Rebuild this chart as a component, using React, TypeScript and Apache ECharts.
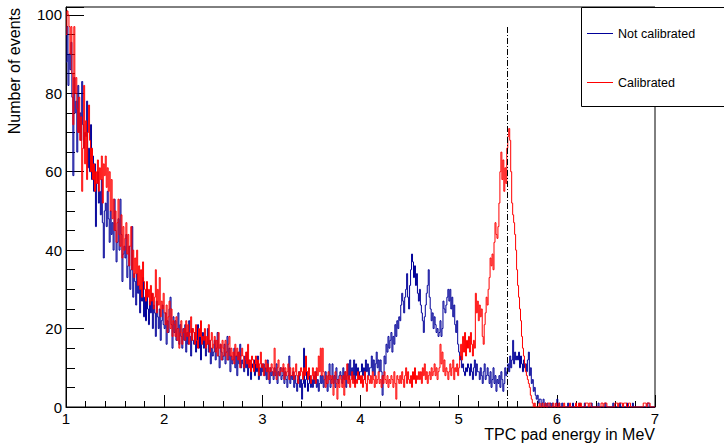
import React, { useEffect, useRef } from "react";
import * as echarts from "echarts";

// Histogram binning (MeV)
const X_MIN = 1;
const X_MAX = 7;
const BIN_WIDTH = 0.01;

// Counts per 0.01 MeV bin, from 1.00 MeV to 6.99 MeV (rows of 0.1 MeV)
const NOT_CALIBRATED: number[] = [
  88, 97, 82, 90, 86, 93, 79, 59, 84, 75,
  78, 65, 82, 70, 75, 68, 83, 72, 66, 70,
  69, 78, 61, 66, 60, 72, 58, 64, 55, 62,
  46, 57, 60, 52, 55, 49, 58, 47, 38, 50,
  52, 46, 55, 48, 42, 50, 44, 47, 40, 53,
  45, 37, 42, 48, 40, 53, 44, 32, 39, 41,
  38, 44, 33, 36, 41, 30, 35, 46, 28, 34,
  32, 26, 34, 29, 31, 24, 30, 27, 33, 23,
  28, 22, 30, 25, 21, 27, 24, 29, 20, 26,
  24, 18, 27, 23, 20, 25, 17, 22, 26, 21,
  20, 24, 16, 22, 19, 25, 28, 21, 15, 23,
  19, 22, 17, 20, 24, 16, 21, 18, 15, 20,
  17, 21, 14, 19, 16, 22, 18, 13, 20, 17,
  16, 19, 14, 17, 21, 15, 18, 12, 16, 19,
  15, 18, 13, 16, 20, 14, 17, 11, 15, 13,
  14, 17, 12, 15, 19, 13, 10, 16, 14, 12,
  13, 16, 11, 14, 18, 12, 15, 9, 13, 11,
  12, 15, 10, 13, 8, 14, 11, 16, 10, 12,
  11, 9, 13, 10, 14, 8, 12, 10, 7, 11,
  10, 12, 8, 11, 9, 13, 7, 10, 8, 11,
  9, 11, 8, 10, 7, 12, 9, 6, 10, 8,
  9, 7, 10, 8, 11, 6, 9, 8, 10, 7,
  8, 10, 6, 9, 7, 5, 8, 13, 6, 8,
  7, 9, 5, 8, 6, 4, 7, 9, 5, 7,
  2, 6, 15, 5, 7, 9, 4, 6, 8, 5,
  7, 5, 8, 6, 9, 5, 7, 4, 6, 8,
  6, 8, 5, 7, 9, 6, 4, 8, 11, 5,
  7, 11, 6, 8, 5, 10, 7, 6, 8, 9,
  8, 6, 10, 7, 9, 5, 8, 11, 7, 12,
  8, 10, 7, 12, 6, 11, 8, 10, 7, 9,
  9, 11, 8, 10, 7, 12, 9, 11, 8, 10,
  10, 13, 9, 12, 8, 11, 14, 10, 12, 9,
  12, 9, 3, 8, 13, 11, 16, 14, 18, 15,
  17, 19, 14, 18, 16, 21, 18, 22, 20, 23,
  22, 26, 29, 27, 24, 28, 30, 34, 28, 25,
  31, 35, 39, 37, 33, 36, 31, 34, 29, 27,
  30, 26, 24, 22, 19, 23, 26, 29, 31, 35,
  28, 25, 22, 24, 20, 23, 21, 19, 20, 18,
  19, 22, 18, 20, 27, 25, 24, 26, 28, 30,
  27, 30, 25, 28, 23, 26, 21, 19, 22, 16,
  14, 12, 13, 10, 11, 9, 8, 10, 9, 11,
  10, 8, 11, 9, 7, 10, 12, 8, 11, 9,
  9, 7, 10, 8, 6, 9, 11, 7, 8, 10,
  8, 6, 9, 5, 7, 10, 6, 8, 4, 7,
  6, 8, 5, 9, 7, 4, 6, 10, 8, 9,
  11, 9, 13, 10, 12, 17, 11, 14, 12, 13,
  12, 14, 10, 13, 11, 9, 12, 10, 11, 9,
  12, 14, 8, 10, 6, 7, 4, 5, 3, 2,
  3, 1, 2, 2, 0, 1, 2, 0, 1, 0,
  1, 0, 0, 1, 0, 1, 0, 0, 0, 1,
  2, 0, 1, 0, 0, 1, 0, 0, 0, 0,
  0, 1, 0, 0, 0, 0, 1, 0, 0, 0,
  0, 0, 0, 1, 0, 0, 0, 0, 1, 0,
  0, 0, 0, 0, 0, 1, 0, 0, 0, 0,
  0, 0, 1, 0, 0, 0, 0, 0, 0, 1,
  0, 0, 0, 0, 0, 0, 0, 1, 0, 0,
  0, 0, 0, 0, 1, 0, 0, 0, 0, 0,
  0, 1, 0, 0, 0, 0, 0, 1, 0, 0,
  0, 0, 0, 0, 0, 0, 0, 0, 0, 0,
  0, 0, 1, 1, 0, 0, 0, 0, 0, 0,
];

const CALIBRATED: number[] = [
  95, 101, 100, 97, 90, 97, 85, 72, 97, 80,
  84, 76, 70, 79, 68, 74, 55, 66, 82, 62,
  73, 58, 70, 77, 68, 60, 66, 58, 62, 55,
  60, 57, 63, 55, 61, 58, 64, 52, 62, 59,
  64, 56, 61, 55, 60, 50, 58, 48, 53, 45,
  50, 42, 47, 53, 44, 41, 49, 38, 46, 40,
  43, 47, 39, 44, 36, 41, 46, 35, 40, 33,
  38, 34, 40, 31, 36, 30, 35, 28, 37, 32,
  30, 27, 32, 28, 30, 26, 31, 27, 29, 25,
  28, 35, 24, 30, 26, 33, 23, 27, 25, 29,
  24, 21, 26, 19, 23, 27, 20, 25, 18, 22,
  21, 18, 23, 17, 20, 15, 19, 22, 16, 19,
  20, 17, 22, 18, 21, 16, 19, 23, 17, 20,
  19, 16, 21, 17, 15, 20, 18, 22, 16, 18,
  17, 20, 15, 18, 16, 21, 14, 17, 19, 15,
  16, 18, 14, 17, 13, 19, 15, 16, 12, 17,
  15, 13, 17, 14, 12, 16, 18, 13, 15, 12,
  14, 11, 16, 13, 15, 12, 14, 10, 13, 15,
  13, 10, 12, 14, 11, 16, 10, 12, 9, 13,
  12, 9, 11, 13, 10, 12, 8, 11, 14, 10,
  11, 8, 10, 12, 9, 11, 7, 10, 9, 11,
  10, 8, 15, 9, 7, 10, 12, 8, 9, 10,
  9, 11, 7, 10, 8, 9, 11, 7, 10, 8,
  8, 10, 7, 9, 11, 8, 6, 9, 8, 10,
  9, 7, 10, 8, 13, 9, 7, 10, 8, 6,
  8, 10, 7, 9, 6, 10, 8, 13, 9, 15,
  8, 15, 9, 7, 5, 8, 6, 9, 7, 8,
  6, 8, 3, 7, 9, 6, 2, 7, 5, 8,
  7, 5, 8, 3, 9, 7, 11, 6, 8, 5,
  7, 9, 6, 8, 5, 7, 6, 9, 7, 8,
  6, 8, 5, 7, 9, 6, 4, 8, 7, 6,
  8, 6, 9, 7, 5, 8, 6, 7, 9, 6,
  7, 5, 8, 6, 9, 7, 6, 8, 5, 7,
  6, 8, 7, 5, 9, 6, 2, 8, 7, 6,
  8, 6, 9, 7, 5, 8, 10, 6, 9, 7,
  6, 8, 5, 9, 7, 10, 6, 8, 7, 9,
  7, 9, 6, 10, 8, 11, 7, 9, 6, 8,
  9, 7, 10, 8, 9, 11, 8, 10, 7, 9,
  10, 16, 11, 14, 9, 12, 8, 10, 9, 7,
  9, 11, 8, 10, 12, 7, 10, 9, 11, 8,
  10, 13, 16, 12, 18, 14, 19, 13, 17, 15,
  18, 14, 19, 16, 13, 17, 15, 29, 24, 27,
  22, 26, 23, 25, 18, 16, 21, 24, 28, 26,
  30, 33, 38, 36, 39, 35, 42, 47, 44, 43,
  46, 52, 60, 65, 58, 63, 55, 61, 57, 66,
  69, 71, 68, 60, 52, 49, 47, 44, 40, 35,
  31, 28, 25, 22, 18, 15, 13, 11, 9, 8,
  7, 6, 5, 3, 2, 1, 0, 1, 0, 0,
  0, 0, 1, 0, 0, 1, 0, 0, 1, 0,
  0, 1, 1, 0, 0, 0, 1, 0, 0, 1,
  0, 0, 1, 0, 0, 0, 0, 1, 0, 0,
  0, 0, 0, 1, 0, 0, 0, 0, 0, 1,
  0, 0, 1, 0, 1, 0, 0, 0, 0, 1,
  1, 1, 0, 1, 1, 0, 0, 0, 0, 0,
  0, 0, 0, 0, 0, 1, 1, 0, 1, 1,
  1, 0, 0, 0, 0, 0, 0, 0, 0, 1,
  1, 1, 0, 1, 1, 1, 1, 0, 1, 1,
  1, 0, 0, 1, 1, 0, 0, 0, 0, 0,
  0, 0, 0, 0, 0, 0, 0, 0, 1, 1,
  1, 0, 1, 1, 1, 0, 0, 0, 0, 0,
];

// Reference marker line (MeV) and its top (events)
const MARKER_ENERGY = 5.49;
const MARKER_TOP = 97;

const Y_MAX = 102;
const SERIES_NAMES = ["Not calibrated", "Calibrated"];
const COLORS = ["#000099", "#ff0000"];
const X_TITLE = "TPC pad energy in MeV";
const Y_TITLE = "Number of events";
const FONT = "'Liberation Sans', Arial, Helvetica, sans-serif";

function toSteps(counts: number[]): [number, number][] {
  const pts: [number, number][] = counts.map((c, i) => [
    Math.round((X_MIN + i * BIN_WIDTH) * 100) / 100,
    c,
  ]);
  pts.push([X_MAX, counts[counts.length - 1]]);
  return pts;
}

export default function App() {
  const ref = useRef<HTMLDivElement>(null);

  useEffect(() => {
    if (!ref.current) return;
    const chart = echarts.init(ref.current, undefined, { renderer: "svg" });
    const black = "#000";
    const legendRowsY = [33.5, 82.5];
    const legendEntries = SERIES_NAMES.flatMap((name, i) => [
      {
        type: "line",
        z: 20,
        shape: { x1: 587, y1: legendRowsY[i], x2: 613, y2: legendRowsY[i] },
        style: { stroke: COLORS[i], lineWidth: 1 },
      },
      {
        type: "text",
        z: 20,
        x: 618,
        y: legendRowsY[i],
        style: {
          text: name,
          align: "left",
          verticalAlign: "middle",
          fontSize: 12.5,
          fontFamily: FONT,
          fill: black,
        },
      },
    ]);
    chart.setOption({
      animation: false,
      backgroundColor: "#fff",
      textStyle: { fontFamily: FONT },
      grid: {
        left: 66,
        right: 69,
        top: 7,
        bottom: 36,
        show: true,
        borderColor: black,
        borderWidth: 1,
        backgroundColor: "transparent",
      },
      xAxis: {
        type: "value",
        min: X_MIN,
        max: X_MAX,
        interval: 1,
        axisLine: { show: true, onZero: false, lineStyle: { color: black, width: 1 } },
        axisTick: { show: true, inside: true, length: 12, lineStyle: { color: black } },
        minorTick: { show: true, splitNumber: 5, length: 6, lineStyle: { color: black } },
        splitLine: { show: false },
        axisLabel: { color: black, fontSize: 15, fontFamily: FONT, margin: 4 },
      },
      yAxis: {
        type: "value",
        min: 0,
        max: Y_MAX,
        interval: 20,
        axisLine: { show: true, lineStyle: { color: black, width: 1 } },
        axisTick: { show: true, inside: true, length: 18, lineStyle: { color: black } },
        minorTick: { show: true, splitNumber: 4, length: 9, lineStyle: { color: black } },
        splitLine: { show: false },
        axisLabel: {
          color: black,
          fontSize: 15,
          fontFamily: FONT,
          margin: 4,
          formatter: (v: number) => (v % 20 === 0 ? String(v) : ""),
        },
      },
      series: [
        {
          name: SERIES_NAMES[0],
          type: "line",
          step: "end",
          data: toSteps(NOT_CALIBRATED),
          symbol: "none",
          lineStyle: { color: COLORS[0], width: 1 },
          itemStyle: { color: COLORS[0] },
        },
        {
          name: SERIES_NAMES[1],
          type: "line",
          step: "end",
          data: toSteps(CALIBRATED),
          symbol: "none",
          lineStyle: { color: COLORS[1], width: 1 },
          itemStyle: { color: COLORS[1] },
          markLine: {
            silent: true,
            symbol: ["none", "none"],
            label: { show: false },
            lineStyle: { color: black, type: [6, 2, 1, 2], width: 1 },
            data: [[{ coord: [MARKER_ENERGY, 0] }, { coord: [MARKER_ENERGY, MARKER_TOP] }]],
          },
        },
      ],
      graphic: [
        {
          type: "rect",
          z: 10,
          shape: { x: 581.5, y: 7.5, width: 160, height: 99 },
          style: { fill: "#fff", stroke: black, lineWidth: 1 },
        },
        ...legendEntries,
        {
          type: "text",
          x: 655,
          y: 434,
          style: {
            text: X_TITLE,
            align: "right",
            verticalAlign: "middle",
            fontSize: 16,
            fontFamily: FONT,
            fill: black,
          },
        },
        {
          type: "text",
          x: 14,
          y: 8,
          rotation: Math.PI / 2,
          style: {
            text: Y_TITLE,
            align: "right",
            verticalAlign: "middle",
            fontSize: 16,
            fontFamily: FONT,
            fill: black,
          },
        },
      ],
    });
    return () => chart.dispose();
  }, []);

  return (
    <div
      ref={ref}
      style={{ position: "fixed", left: 0, top: 0, width: 724, height: 443 }}
    />
  );
}
